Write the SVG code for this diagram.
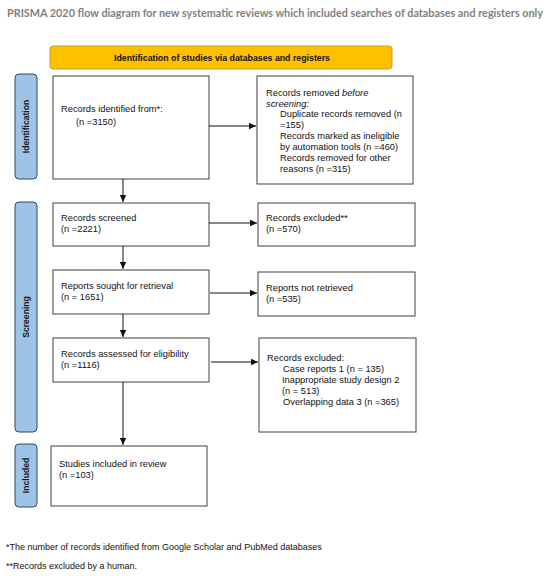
<svg xmlns="http://www.w3.org/2000/svg" width="550" height="576" viewBox="0 0 550 576">
<style>
.bg{fill:#ffffff}
.box{fill:#ffffff;stroke:#404040;stroke-width:1}
.bar{fill:#9dc3e6;stroke:#2f4b66;stroke-width:1}
.ban{fill:#ffc000;stroke:#c9a227;stroke-width:1}
text{font-family:"Liberation Sans",Arial,sans-serif;fill:#111111}
.t{font-size:9.3px}
.f{font-size:9px}
.b{font-size:9px;font-weight:bold}
.side{font-size:8.6px;font-weight:bold;fill:#1a1a1a}
.title{font-family:Lato,"Liberation Sans",sans-serif;font-size:10.5px;font-weight:bold;fill:#7f7f7f}
.con{stroke:#111111;stroke-width:1;fill:none}
</style>
<defs>
<marker id="ah" markerWidth="8" markerHeight="8" refX="7" refY="4" orient="auto" markerUnits="userSpaceOnUse">
<path d="M0,0.8 L7,4 L0,7.2 Z" fill="#111111"/>
</marker>
</defs>
<rect class="bg" x="0" y="0" width="550" height="576"/>
<text class="title" x="7" y="17" textLength="536" lengthAdjust="spacingAndGlyphs">PRISMA 2020 flow diagram for new systematic reviews which included searches of databases and registers only</text>

<g id="banner">
<rect class="ban" x="50" y="46" width="342" height="23" rx="3"/>
<text class="b" x="222" y="60.5" text-anchor="middle" textLength="216" lengthAdjust="spacingAndGlyphs">Identification of studies via databases and registers</text>
</g>

<g id="bar-identification">
<rect class="bar" x="15" y="74" width="22" height="105" rx="4"/>
<text class="side" transform="translate(29,126.5) rotate(-90)" text-anchor="middle">Identification</text>
</g>
<g id="bar-screening">
<rect class="bar" x="15" y="202" width="22" height="230" rx="4"/>
<text class="side" transform="translate(29,317) rotate(-90)" text-anchor="middle">Screening</text>
</g>
<g id="bar-included">
<rect class="bar" x="15" y="444" width="22" height="63" rx="4"/>
<text class="side" transform="translate(29,475.5) rotate(-90)" text-anchor="middle">Included</text>
</g>

<g id="identified">
<rect class="box" x="53" y="76" width="156" height="103"/>
<text class="t" x="61" y="112">Records identified from*:</text>
<text class="t" x="76" y="124.5">(n =3150)</text>
</g>

<g id="removed">
<rect class="box" x="257" y="76" width="156" height="108"/>
<text class="t" x="266" y="96">Records removed <tspan font-style="italic">before</tspan></text>
<text class="t" x="266" y="106.5" font-style="italic">screening:</text>
<text class="t" x="280" y="117">Duplicate records removed (n</text>
<text class="t" x="280" y="127.5">=155)</text>
<text class="t" x="280" y="138.5">Records marked as ineligible</text>
<text class="t" x="280" y="149.5">by automation tools (n =460)</text>
<text class="t" x="280" y="160.5">Records removed for other</text>
<text class="t" x="280" y="171.5">reasons (n =315)</text>
</g>

<g id="screened">
<rect class="box" x="53" y="203" width="156" height="43"/>
<text class="t" x="61" y="221">Records screened</text>
<text class="t" x="61" y="232">(n =2221)</text>
</g>

<g id="excluded1">
<rect class="box" x="258" y="203" width="157" height="43"/>
<text class="t" x="266" y="221">Records excluded**</text>
<text class="t" x="266" y="232">(n =570)</text>
</g>

<g id="sought">
<rect class="box" x="53" y="270" width="156" height="44"/>
<text class="t" x="61" y="289">Reports sought for retrieval</text>
<text class="t" x="61" y="300">(n = 1651)</text>
</g>

<g id="notretrieved">
<rect class="box" x="258" y="272" width="157" height="44"/>
<text class="t" x="266" y="291">Reports not retrieved</text>
<text class="t" x="266" y="302">(n =535)</text>
</g>

<g id="assessed">
<rect class="box" x="53" y="338" width="156" height="44"/>
<text class="t" x="61" y="357">Records assessed for eligibility</text>
<text class="t" x="61" y="368">(n =1116)</text>
</g>

<g id="excluded2">
<rect class="box" x="259" y="338" width="157" height="94"/>
<text class="t" x="267" y="361">Records excluded:</text>
<text class="t" x="283" y="372">Case reports 1 (n = 135)</text>
<text class="t" x="282" y="383">Inappropriate study design 2</text>
<text class="t" x="282" y="394">(n = 513)</text>
<text class="t" x="283" y="405">Overlapping data 3 (n =365)</text>
</g>

<g id="included">
<rect class="box" x="51" y="446" width="156" height="60"/>
<text class="t" x="59" y="467">Studies included in review</text>
<text class="t" x="59" y="478">(n =103)</text>
</g>

<g id="connectors">
<line class="con" x1="209" y1="126" x2="256" y2="126" marker-end="url(#ah)"/>
<line class="con" x1="123" y1="179" x2="123" y2="202" marker-end="url(#ah)"/>
<line class="con" x1="209" y1="223" x2="257" y2="223" marker-end="url(#ah)"/>
<line class="con" x1="123" y1="246" x2="123" y2="269" marker-end="url(#ah)"/>
<line class="con" x1="210" y1="293" x2="257" y2="293" marker-end="url(#ah)"/>
<line class="con" x1="123" y1="314" x2="123" y2="337" marker-end="url(#ah)"/>
<line class="con" x1="211" y1="362" x2="258" y2="362" marker-end="url(#ah)"/>
<line class="con" x1="123" y1="382" x2="123" y2="445" marker-end="url(#ah)"/>
</g>

<text class="f" x="6" y="550">*The number of records identified from Google Scholar and PubMed databases</text>
<text class="f" x="6" y="569">**Records excluded by a human.</text>
</svg>
